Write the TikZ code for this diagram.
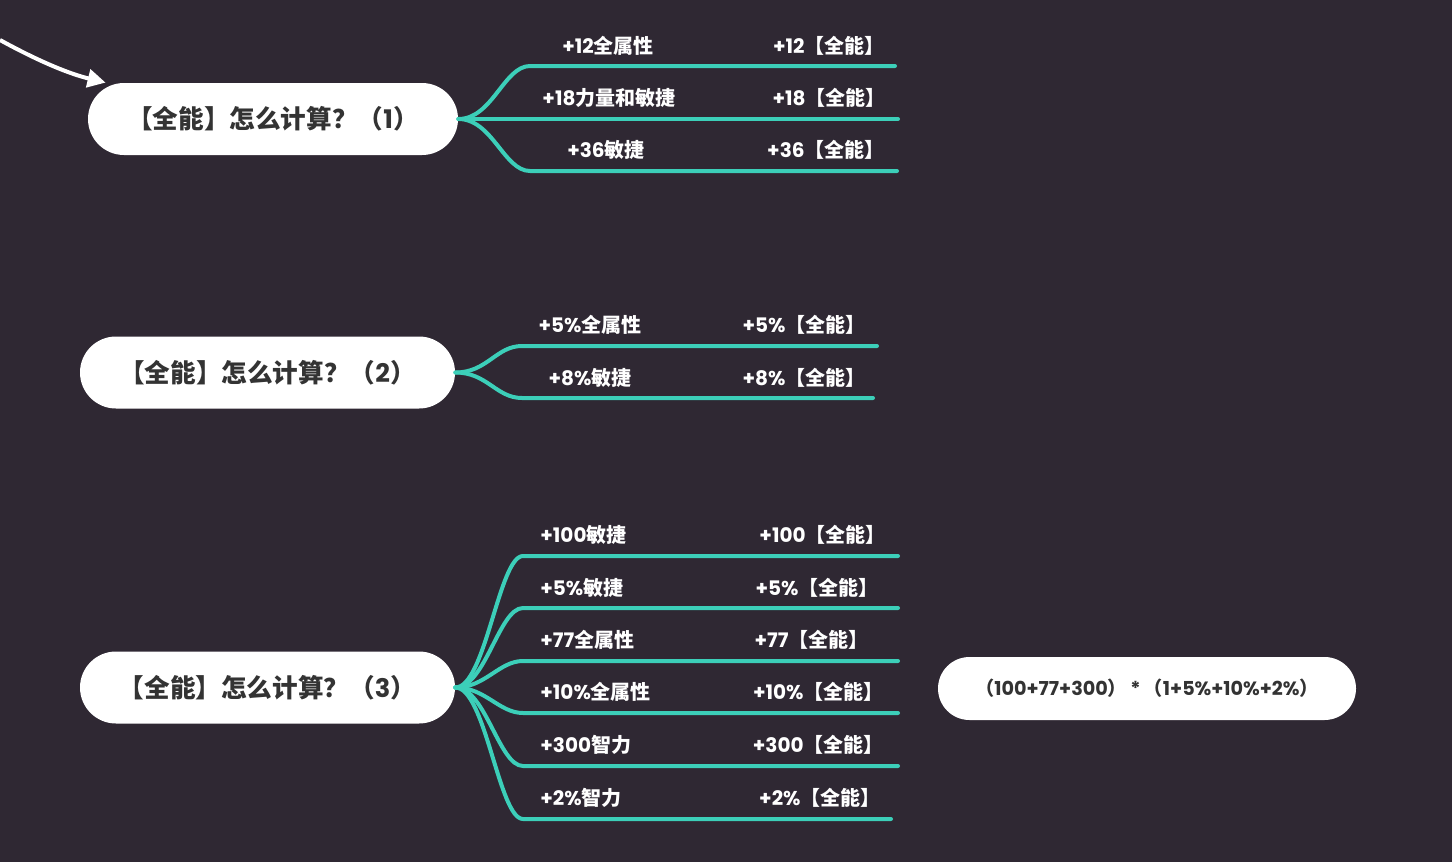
\documentclass[tikz,border=0pt]{standalone}
\usepackage{fontspec}
\setmainfont{Noto Sans CJK SC}
\newfontfamily\pp{Poppins}
\usetikzlibrary{calc,arrows.meta}
\definecolor{bgc}{HTML}{2F2833}
\definecolor{brc}{HTML}{3CCFB9}
\definecolor{dkc}{HTML}{333333}
\begin{document}
\begin{tikzpicture}[x=0.5pt,y=-0.5pt,
  topic/.style={fill=white, rounded corners=18pt, minimum height=36pt, text=dkc,
    font=\bfseries\fontsize{12.8}{15}\selectfont, inner sep=0},
  formula/.style={fill=white, rounded corners=15.75pt, minimum height=31.5pt, minimum width=209pt,
    text=dkc, font=\bfseries\fontsize{9.6}{12}\selectfont, inner sep=0},
  lbl/.style={text=white, font=\bfseries\fontsize{10}{12}\selectfont, inner sep=0},
  branch/.style={draw=brc, line width=2pt, line cap=round},
]
\fill[bgc] (0,0) rectangle (1452,862);
\useasboundingbox (0,0) rectangle (1452,862);

% topics
\node[topic, minimum width=185pt] (b1) at (273,119) {【全能】怎么计算？（{\pp\bfseries 1}）};
\node[topic, minimum width=187.5pt] (b2) at (267.5,372.5) {【全能】怎么计算？（{\pp\bfseries 2}）};
\node[topic, minimum width=187.5pt] (b3) at (267.5,687.5) {【全能】怎么计算？（{\pp\bfseries 3}）};
\node[formula] (f) at (1147,688.5) {（{\pp\bfseries 100+77+300}）{\pp\bfseries\,*\,}（{\pp\bfseries 1+5\%+10\%+2\%}）};

% incoming arrow
\coordinate (a0) at (0,40);
\draw[white, line width=2pt, -{Triangle[length=9pt,width=9pt]}]
  (a0) .. controls (40,62) and (70,74) .. ($(b1.north west)+(18,0)$);

% branch 1
\coordinate (o1) at (b1.east);
\coordinate (s11) at (530,66);  \coordinate (e11) at (895,66);
\coordinate (e12) at (898,119);
\coordinate (s13) at (530,171); \coordinate (e13) at (897,171);
\draw[branch] (o1) .. controls ($(o1)+(34,0)$) and ($(s11)+(-26,0)$) .. (s11) -- (e11);
\draw[branch] (o1) -- (e12);
\draw[branch] (o1) .. controls ($(o1)+(34,0)$) and ($(s13)+(-26,0)$) .. (s13) -- (e13);
\node[lbl] (l11) at (608,46) {{\pp +12}全属性};
\node[lbl, anchor=east] (r11) at (885,46) {{\pp +12}【全能】};
\node[lbl] (l12) at (609,98) {{\pp +18}力量和敏捷};
\node[lbl, anchor=east] (r12) at (886,98) {{\pp +18}【全能】};
\node[lbl] (l13) at (606,150) {{\pp +36}敏捷};
\node[lbl, anchor=east] (r13) at (885,150) {{\pp +36}【全能】};

% branch 2
\coordinate (o2) at (b2.east);
\coordinate (s21) at (522,346); \coordinate (e21) at (877,346);
\coordinate (s22) at (522,398); \coordinate (e22) at (873,398);
\draw[branch] (o2) .. controls ($(o2)+(32,0)$) and ($(s21)+(-26,0)$) .. (s21) -- (e21);
\draw[branch] (o2) .. controls ($(o2)+(32,0)$) and ($(s22)+(-26,0)$) .. (s22) -- (e22);
\node[lbl] (l21) at (590,325) {{\pp +5\%}全属性};
\node[lbl, anchor=east] (r21) at (866,325) {{\pp +5\%}【全能】};
\node[lbl] (l22) at (590,378) {{\pp +8\%}敏捷};
\node[lbl, anchor=east] (r22) at (866,378) {{\pp +8\%}【全能】};

% branch 3
\coordinate (o3) at (b3.east);
\coordinate (s31) at (523,556); \coordinate (e31) at (898,556);
\coordinate (s32) at (523,608); \coordinate (e32) at (898,608);
\coordinate (s33) at (523,661); \coordinate (e33) at (898,661);
\coordinate (s34) at (523,713); \coordinate (e34) at (898,713);
\coordinate (s35) at (523,766); \coordinate (e35) at (898,766);
\coordinate (s36) at (523,819); \coordinate (e36) at (891,819);
\foreach \i in {1,...,6}{
  \draw[branch] (o3) .. controls ($(o3)+(30,0)$) and ($(s3\i)+(-24,0)$) .. (s3\i) -- (e3\i);
}
\node[lbl, anchor=west] (l31) at (540,535) {{\pp +100}敏捷};
\node[lbl, anchor=east] (r31) at (886,535) {{\pp +100}【全能】};
\node[lbl, anchor=west] (l32) at (540,588) {{\pp +5\%}敏捷};
\node[lbl, anchor=east] (r32) at (879,588) {{\pp +5\%}【全能】};
\node[lbl, anchor=west] (l33) at (540,640) {{\pp +77}全属性};
\node[lbl, anchor=east] (r33) at (869,640) {{\pp +77}【全能】};
\node[lbl, anchor=west] (l34) at (540,692) {{\pp +10\%}全属性};
\node[lbl, anchor=east] (r34) at (884,692) {{\pp +10\%}【全能】};
\node[lbl, anchor=west] (l35) at (540,745) {{\pp +300}智力};
\node[lbl, anchor=east] (r35) at (884,745) {{\pp +300}【全能】};
\node[lbl, anchor=west] (l36) at (540,798) {{\pp +2\%}智力};
\node[lbl, anchor=east] (r36) at (881,798) {{\pp +2\%}【全能】};
\end{tikzpicture}
\end{document}
